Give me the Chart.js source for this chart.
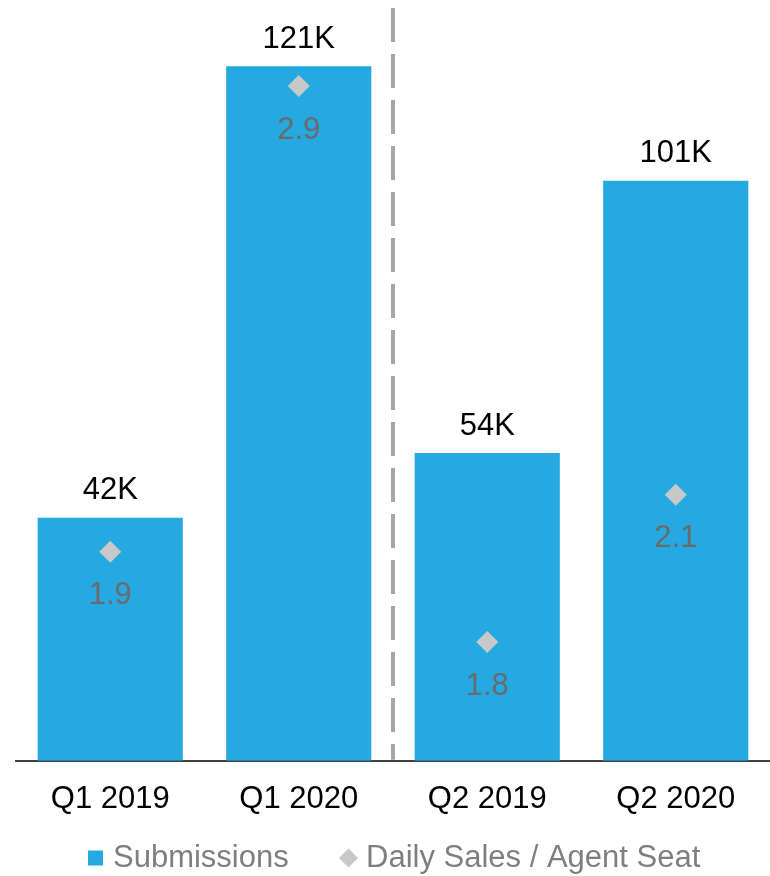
<!DOCTYPE html>
<html lang="en">
<head>
    <meta charset="UTF-8">
    <title>Submissions vs Daily Sales / Agent Seat</title>
    <script src="https://cdn.jsdelivr.net/npm/chart.js"></script>
    <style>
        html, body {
            margin: 0;
            padding: 0;
            background: #ffffff;
        }
        .wrap {
            width: 770px;
            height: 876px;
        }
    </style>
</head>
<body>
    <div class="wrap">
        <canvas id="chart" width="770" height="876"></canvas>
    </div>

    <script>
        // Categories and values
        const quarters = ['Q1 2019', 'Q1 2020', 'Q2 2019', 'Q2 2020'];
        const submissions = [42.4, 121.2, 53.7, 101.2];     // thousands
        const dailySales = [1.94, 2.92, 1.75, 2.06];         // per agent seat
        const seriesNames = ['Submissions', 'Daily Sales / Agent Seat'];

        const BLUE = '#25a9e0';
        const DIAMOND = '#c8c8c8';
        const FONT = "'Liberation Sans', Arial, sans-serif";

        // Data labels, dashed separator and the legend
        const labelPlugin = {
            id: 'labels',
            afterDatasetsDraw(chart) {
                const ctx = chart.ctx;
                const area = chart.chartArea;
                ctx.save();

                // dashed divider half way between the 2nd and 3rd bar
                const x = chart.scales.x;
                const midX = (x.getPixelForValue(1) + x.getPixelForValue(2)) / 2;
                ctx.strokeStyle = '#a6a6a6';
                ctx.lineWidth = 4;
                ctx.setLineDash([34, 12]);
                ctx.beginPath();
                ctx.moveTo(midX, area.top - 2);
                ctx.lineTo(midX, area.bottom - 1);
                ctx.stroke();
                ctx.setLineDash([]);

                ctx.textAlign = 'center';
                ctx.textBaseline = 'middle';
                ctx.font = '31px ' + FONT;

                // bar values
                ctx.fillStyle = '#000000';
                chart.getDatasetMeta(0).data.forEach((bar, i) => {
                    ctx.fillText(Math.round(submissions[i]) + 'K', bar.x, bar.y - 27);
                });

                // diamond values
                ctx.fillStyle = '#6b6b6b';
                chart.getDatasetMeta(1).data.forEach((pt, i) => {
                    ctx.fillText(dailySales[i].toFixed(1), pt.x, pt.y + 44);
                });

                // legend
                const ly = 858;
                ctx.textAlign = 'left';
                ctx.fillStyle = BLUE;
                ctx.fillRect(88, ly - 7.5, 15, 15);
                ctx.fillStyle = '#7f7f7f';
                ctx.fillText(seriesNames[0], 113, ly);

                ctx.fillStyle = DIAMOND;
                ctx.beginPath();
                ctx.moveTo(348.5, ly - 9.5);
                ctx.lineTo(358, ly);
                ctx.lineTo(348.5, ly + 9.5);
                ctx.lineTo(339, ly);
                ctx.closePath();
                ctx.fill();
                ctx.fillStyle = '#7f7f7f';
                ctx.fillText(seriesNames[1], 366, ly);

                ctx.restore();
            }
        };

        new Chart(document.getElementById('chart').getContext('2d'), {
            data: {
                labels: quarters,
                datasets: [
                    {
                        type: 'bar',
                        label: seriesNames[0],
                        data: submissions,
                        backgroundColor: BLUE,
                        yAxisID: 'y',
                        categoryPercentage: 1,
                        barPercentage: 0.77,
                        order: 2
                    },
                    {
                        type: 'line',
                        label: seriesNames[1],
                        data: dailySales,
                        yAxisID: 'y2',
                        showLine: false,
                        pointStyle: 'rectRot',
                        pointRadius: 11,
                        pointBackgroundColor: DIAMOND,
                        pointBorderWidth: 0,
                        backgroundColor: DIAMOND,
                        borderColor: DIAMOND,
                        order: 1
                    }
                ]
            },
            options: {
                responsive: false,
                animation: false,
                layout: { autoPadding: false, padding: { left: 16, right: 0, top: 10, bottom: 38 } },
                scales: {
                    x: {
                        grid: { display: false, drawTicks: false },
                        border: { display: true, color: '#404040', width: 2 },
                        ticks: {
                            color: '#000000',
                            padding: 20,
                            font: { family: FONT, size: 31 }
                        }
                    },
                    y: {
                        display: false,
                        min: 0,
                        max: 131
                    },
                    y2: {
                        display: false,
                        position: 'right',
                        min: 1.5,
                        max: 3.08
                    }
                },
                plugins: {
                    tooltip: { enabled: false },
                    legend: { display: false }
                }
            },
            plugins: [labelPlugin]
        });
    </script>
</body>
</html>
